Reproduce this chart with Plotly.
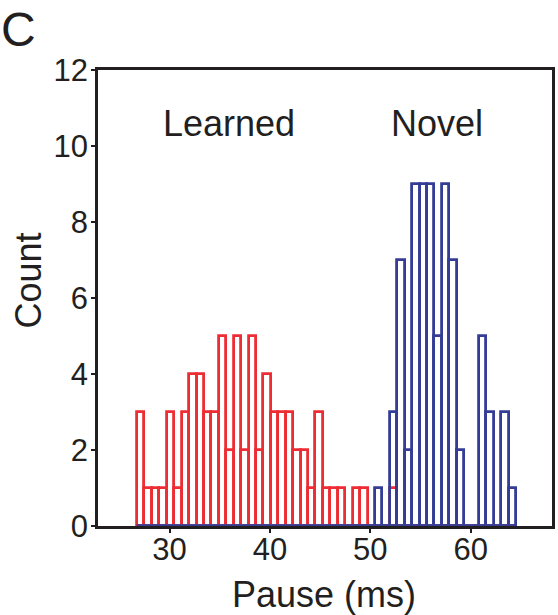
import plotly.graph_objects as go

# Histogram bins (ms)
pause_min = 26.76
bin_width = 0.7406
n_bins = 51

learned_counts = [3, 1, 1, 1, 3, 1, 3, 4, 4, 3,
                  3, 5, 2, 5, 2, 5, 2, 4, 3, 3,
                  3, 2, 2, 1, 3, 1, 1, 1, 0, 1,
                  1, 0, 0, 0, 1, 0, 0, 0, 0, 0,
                  0, 0, 0, 0, 0, 0, 0, 0, 0, 0, 0]
novel_counts = [0, 0, 0, 0, 0, 0, 0, 0, 0, 0,
                0, 0, 0, 0, 0, 0, 0, 0, 0, 0,
                0, 0, 0, 0, 0, 0, 0, 0, 0, 0,
                0, 0, 1, 0, 3, 7, 2, 9, 9, 9,
                5, 9, 7, 2, 0, 0, 5, 3, 0, 3, 1]

x_ticks = [30, 40, 50, 60]
y_ticks = [0, 2, 4, 6, 8, 10, 12]

bin_centers = [pause_min + bin_width * (i + 0.5) for i in range(n_bins)]
edge_lo = pause_min
edge_hi = pause_min + bin_width * n_bins

RED = "rgb(237,45,52)"
BLUE = "rgb(52,60,150)"
INK = "#231f20"
FONT = "Liberation Sans, Arial, sans-serif"
LW = 2.8

fig = go.Figure()
fig.add_trace(go.Bar(x=bin_centers, y=learned_counts, width=bin_width,
                     marker=dict(color="rgba(0,0,0,0)", line=dict(color=RED, width=LW)),
                     cliponaxis=False, showlegend=False, hoverinfo="skip"))
fig.add_trace(go.Bar(x=bin_centers, y=novel_counts, width=bin_width,
                     marker=dict(color="rgba(0,0,0,0)", line=dict(color=BLUE, width=LW)),
                     cliponaxis=False, showlegend=False, hoverinfo="skip"))
fig.add_trace(go.Scatter(x=[edge_lo, edge_hi], y=[0, 0], mode="lines",
                         line=dict(color=BLUE, width=LW), cliponaxis=False,
                         showlegend=False, hoverinfo="skip"))

fig.update_layout(
    width=558, height=615,
    margin=dict(l=98, r=3, t=70, b=89, pad=0),
    paper_bgcolor="white", plot_bgcolor="white",
    barmode="overlay", bargap=0,
    font=dict(family=FONT, color=INK, size=30),
    xaxis=dict(range=[22.87, 68.1], tickvals=x_ticks, ticktext=[str(v) for v in x_ticks],
               showgrid=False, zeroline=False, showline=True, linecolor=INK, linewidth=2.5,
               mirror=True, ticks="outside", ticklen=4, tickwidth=2, tickcolor=INK,
               tickfont=dict(size=31, color=INK), ticklabelstandoff=-10, layer="below traces"),
    yaxis=dict(range=[0, 12], tickvals=y_ticks, ticktext=[str(v) for v in y_ticks],
               showgrid=False, zeroline=False, showline=True, linecolor=INK, linewidth=2.5,
               mirror=True, ticks="outside", ticklen=4, tickwidth=2, tickcolor=INK,
               tickfont=dict(size=31, color=INK), ticklabelstandoff=-3, layer="below traces"),
    annotations=[
        dict(text="Learned", x=35.9, y=10.6, xref="x", yref="y", showarrow=False,
             font=dict(size=36, color=INK, family=FONT), xanchor="center", yanchor="middle"),
        dict(text="Novel", x=56.6, y=10.6, xref="x", yref="y", showarrow=False,
             font=dict(size=36, color=INK, family=FONT), xanchor="center", yanchor="middle"),
        dict(text="Count", x=(28 - 98) / 457, y=(526 - 280) / 456, xref="paper", yref="paper",
             showarrow=False, textangle=-90, font=dict(size=36, color=INK, family=FONT),
             xanchor="center", yanchor="middle"),
        dict(text="Pause (ms)", x=(325 - 98) / 457, y=(526 - 594) / 456, xref="paper", yref="paper",
             showarrow=False, font=dict(size=36, color=INK, family=FONT),
             xanchor="center", yanchor="middle"),
        dict(text="C", x=(18 - 98) / 457, y=(526 - 30) / 456, xref="paper", yref="paper",
             showarrow=False, font=dict(size=48, color=INK, family=FONT),
             xanchor="center", yanchor="middle"),
    ],
)

fig.write_html("out.html")
